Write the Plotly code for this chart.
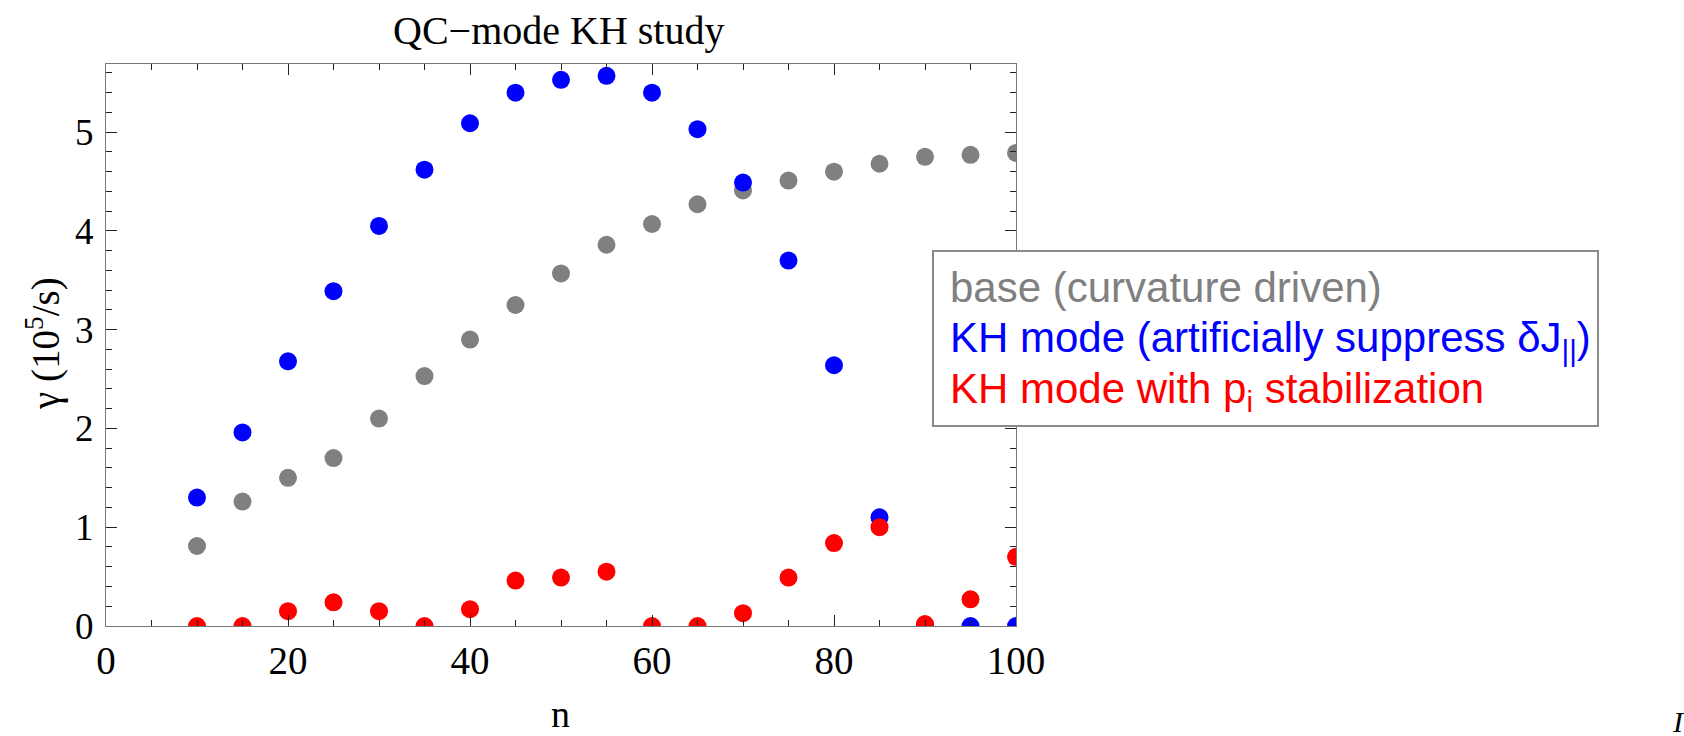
import plotly.graph_objects as go

n_vals = [10, 15, 20, 25, 30, 35, 40, 45, 50, 55, 60, 65, 70, 75, 80, 85, 90, 95, 100]
gamma_base = [0.81, 1.26, 1.50, 1.70, 2.10, 2.53, 2.90, 3.25, 3.57, 3.86, 4.07, 4.27,
              4.41, 4.51, 4.60, 4.68, 4.75, 4.77, 4.79]
gamma_kh = [1.30, 1.96, 2.68, 3.39, 4.05, 4.62, 5.09, 5.40, 5.53, 5.57, 5.40, 5.03,
            4.49, 3.70, 2.64, 1.10, 0.0, 0.0, 0.0]
gamma_kh_pi = [0.0, 0.0, 0.15, 0.24, 0.15, 0.0, 0.17, 0.46, 0.49, 0.55, 0.0, 0.0,
               0.13, 0.49, 0.84, 1.00, 0.02, 0.27, 0.70]

series_names = ["base (curvature driven)",
                "KH mode (artificially suppress δJ<sub>||</sub>)",
                "KH mode with p<sub>i</sub> stabilization"]
series_colors = ["#808080", "#0000FF", "#FF0000"]

W, H = 1684, 736
L, R, T, B = 106, 1016, 64, 626

def px(x):
    return (x - L) / (R - L)

def py(y):
    return (B - y) / (B - T)

fig = go.Figure()
for ys, name, col in zip([gamma_base, gamma_kh, gamma_kh_pi], series_names, series_colors):
    fig.add_trace(go.Scatter(x=n_vals, y=ys, mode="markers", name=name,
                             marker=dict(color=col, size=18, line=dict(width=0)),
                             showlegend=False, cliponaxis=True))

serif = "Liberation Serif"
sans = "Liberation Sans"

axis_common = dict(showline=True, linecolor="#777777", linewidth=1.2, mirror="allticks",
                   ticks="inside", tickcolor="#222222", tickwidth=1.2, ticklen=11,
                   showgrid=False, zeroline=False)

fig.update_xaxes(range=[0, 100], dtick=20, tick0=0,
                 minor=dict(dtick=5, ticks="inside", ticklen=6, tickcolor="#222222", tickwidth=1.2),
                 ticklabelstandoff=0,
                 tickfont=dict(family=serif, size=39, color="black"), **axis_common)
fig.update_yaxes(range=[0, 5.69], dtick=1, tick0=0,
                 minor=dict(dtick=0.2, ticks="inside", ticklen=6, tickcolor="#222222", tickwidth=1.2),
                 ticklabelstandoff=4,
                 tickfont=dict(family=serif, size=37, color="black"), **axis_common)

annotations = [
    dict(text="QC−mode KH study", x=px(558), y=py(30), xref="paper", yref="paper",
         xanchor="center", yanchor="middle", showarrow=False,
         font=dict(family=serif, size=40, color="black")),
    dict(text="n", x=px(560), y=py(714), xref="paper", yref="paper",
         xanchor="center", yanchor="middle", showarrow=False,
         font=dict(family=serif, size=38, color="black")),
    dict(text="γ (10<sup>5</sup>/s)", x=px(43), y=py(344), xref="paper", yref="paper",
         xanchor="center", yanchor="middle", showarrow=False, textangle=-90,
         font=dict(family=serif, size=39, color="black")),
    dict(text="<i>I</i>", x=px(1678), y=py(722), xref="paper", yref="paper",
         xanchor="center", yanchor="middle", showarrow=False,
         font=dict(family=serif, size=30, color="black")),
]
line_y = [287, 340, 391]
for name, col, yy in zip(series_names, series_colors, line_y):
    annotations.append(dict(text=name, x=px(948), y=py(yy), xref="paper", yref="paper",
                            xanchor="left", yanchor="middle", showarrow=False,
                            font=dict(family=sans, size=42, color=col)))

fig.update_layout(
    width=W, height=H,
    margin=dict(l=L, r=W - R, t=T, b=H - B),
    paper_bgcolor="white", plot_bgcolor="white",
    annotations=annotations,
    shapes=[dict(type="rect", xref="paper", yref="paper",
                 x0=px(933), x1=px(1598), y0=py(426), y1=py(251),
                 line=dict(color="#8a8a8a", width=2), fillcolor="white", layer="above")],
)

fig.write_html("out.html")
